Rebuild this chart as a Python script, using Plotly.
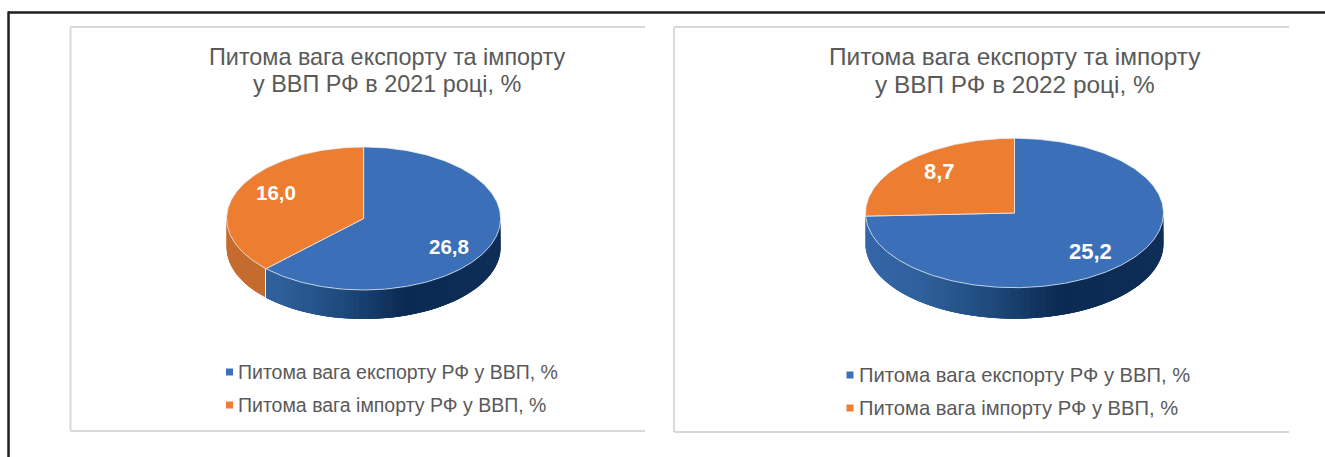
import math
import plotly.graph_objects as go

# ---- data ----
series_labels = ["Питома вага експорту РФ у ВВП, %", "Питома вага імпорту РФ у ВВП, %"]
values_2021 = [26.8, 16.0]
values_2022 = [25.2, 8.7]
labels_2021 = ["26,8", "16,0"]
labels_2022 = ["25,2", "8,7"]
titles_2021 = ["Питома вага експорту та імпорту", "у ВВП РФ в 2021 році, %"]
titles_2022 = ["Питома вага експорту та імпорту", "у ВВП РФ в 2022 році, %"]

BLUE, ORANGE = "#3b70b8", "#ed7d31"
TEXT = "#595959"
FONT = "Liberation Sans"
STOPS = [(0.0, (53, 102, 168)), (0.2, (47, 95, 154)), (0.42, (30, 74, 124)),
         (0.65, (11, 42, 82)), (1.0, (14, 46, 88))]


def ramp(f):
    for (a, ca), (b, cb) in zip(STOPS, STOPS[1:]):
        if f <= b:
            k = (f - a) / (b - a)
            return "rgb(%d,%d,%d)" % tuple(round(p + (q - p) * k) for p, q in zip(ca, cb))
    return "rgb(14,46,88)"


def pt(g, t, dy=0):
    return g["cx"] + g["rx"] * math.sin(t), g["cy"] - g["ry"] * math.cos(t) + dy


def arc(g, a, b, dy=0, step=1.0):
    n = max(2, int(abs(math.degrees(b - a)) / step) + 1)
    return [pt(g, a + (b - a) * i / (n - 1), dy) for i in range(n)]


fig = go.Figure()


def poly(points, fill, line=None, width=0):
    fig.add_trace(go.Scatter(
        x=[p[0] for p in points], y=[p[1] for p in points], mode="lines",
        fill="toself", fillcolor=fill, line=dict(color=line or fill, width=width),
        hoverinfo="skip", showlegend=False))


def pie3d(values, texts, g, label_pos, label_size):
    total = sum(values)
    split = 2 * math.pi * values[0] / total  # clockwise from 12 o'clock: blue first
    lo, hi = math.pi / 2, 3 * math.pi / 2
    n = 90
    step = (hi - lo) / n
    for i in range(n):
        a = lo + step * i
        mid = a + step / 2
        if mid < split:
            # each band runs on past its end; the next band paints over the overlap
            end = min(split, a + step * 3)
            x = pt(g, mid)[0]
            col = ramp((x - (g["cx"] - g["rx"])) / (2 * g["rx"]))
        else:
            end = min(hi, a + step * 3)
            col = "#c46c2e"
        poly(arc(g, a, end) + arc(g, end, a, g["depth"]), col)
    centre = [(g["cx"], g["cy"])]
    edge = "rgba(235,240,246,0.75)"
    poly(centre + arc(g, 0, split) + centre, BLUE, edge, 1)
    poly(centre + arc(g, split, 2 * math.pi) + centre, ORANGE, edge, 1)
    for t, (fx, fy) in zip(texts, label_pos):
        fig.add_annotation(x=g["cx"] + fx * g["rx"], y=g["cy"] + fy * g["ry"], text="<b>%s</b>" % t,
                           showarrow=False, font=dict(family=FONT, size=label_size, color="white"))


G1 = dict(cx=363.6, cy=218.5, rx=137, ry=71.5, depth=29)
G2 = dict(cx=1014.5, cy=213, rx=149, ry=74.7, depth=31)
pie3d(values_2021, labels_2021, G1, [(0.625, 0.385), (-0.64, -0.37)], 20.5)
pie3d(values_2022, labels_2022, G2, [(0.51, 0.52), (-0.505, -0.56)], 22)

shapes = []


def seg(x0, y0, x1, y1, color, w):
    shapes.append(dict(type="line", xref="x", yref="y", x0=x0, y0=y0, x1=x1, y1=y1,
                       line=dict(color=color, width=w), layer="below"))


for left, right, top, bottom in [(70.5, 645, 27, 431), (674, 1289, 27, 432)]:
    seg(left, top, right, top, "#d9d9d9", 2)
    seg(left, top, left, bottom, "#d9d9d9", 2)
    seg(left, bottom, right, bottom, "#d9d9d9", 2)
seg(8, 12.5, 1325, 12.5, "#1f1f1f", 2.5)
seg(8.5, 11.5, 8.5, 457, "#1f1f1f", 2.5)

# titles, one annotation per line for the original line spacing
for xc, lines, size in zip([387, 1015], [titles_2021, titles_2022], [23.4, 24.4]):
    for y, t in zip((56.5, 84), lines):
        fig.add_annotation(x=xc, y=y, text=t, showarrow=False, align="center",
                           font=dict(family=FONT, size=size, color=TEXT))

# legends
for sq, tx, ys, size in [(229.5, 236, (372, 405), 19.5), (850, 857, (375, 408), 20.2)]:
    fig.add_trace(go.Scatter(x=[sq, sq], y=list(ys), mode="markers", hoverinfo="skip", showlegend=False,
                             marker=dict(symbol="square", size=7, color=[BLUE, ORANGE], line=dict(width=0))))
    for y, lab in zip(ys, series_labels):
        fig.add_annotation(x=tx, y=y, text=lab, showarrow=False, xanchor="left",
                           font=dict(family=FONT, size=size, color=TEXT))

fig.update_layout(
    width=1325, height=457, margin=dict(l=0, r=0, t=0, b=0),
    paper_bgcolor="white", plot_bgcolor="white", showlegend=False, shapes=shapes,
    xaxis=dict(range=[0, 1325], visible=False, fixedrange=True),
    yaxis=dict(range=[457, 0], visible=False, fixedrange=True),
)
fig.write_html("out.html", config=dict(displayModeBar=False),
               post_script="document.body.style.margin='0';document.documentElement.style.overflow='hidden';")
